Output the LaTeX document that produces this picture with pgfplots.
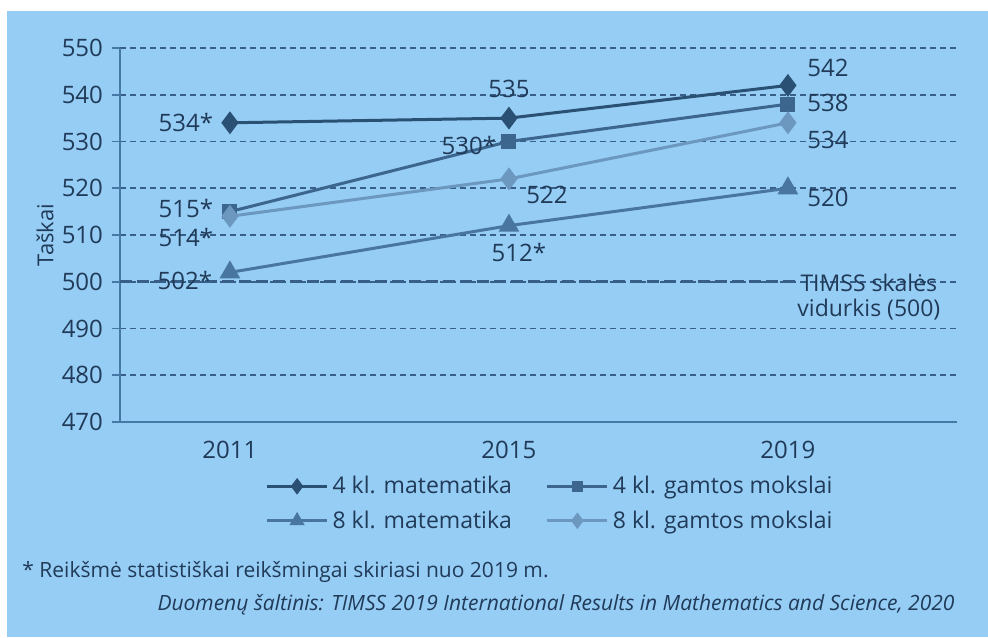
\documentclass[border=0pt]{standalone}
\usepackage{pgfplots}
\pgfplotsset{compat=1.18}
\usepackage{fontspec}
\setmainfont{Open Sans}
\definecolor{bgc}{RGB}{150,205,245}
\definecolor{textc}{RGB}{32,58,88}
\definecolor{gridc}{RGB}{55,95,135}
\definecolor{axisc}{RGB}{70,120,165}
\definecolor{c1}{RGB}{42,80,115}
\definecolor{c2}{RGB}{60,102,142}
\definecolor{c3}{RGB}{72,118,160}
\definecolor{c4}{RGB}{108,152,192}
\begin{document}
\begin{tikzpicture}
\path[use as bounding box] (-60pt,-107.5pt) rectangle (434pt,211pt);
\fill[white] (-60pt,-107.5pt) rectangle (434pt,211pt);
\fill[bgc] (-56.5pt,-107.5pt) rectangle (434pt,205.5pt);
\begin{axis}[
  at={(0,0)}, anchor=south west,
  scale only axis, width=418.5pt, height=187pt,
  xmin=-0.394, xmax=2.606, ymin=470, ymax=550,
  xtick={0,1,2}, xticklabels={2011,2015,2019},
  ytick={470,480,...,550},
  axis x line*=bottom, axis y line*=left,
  axis line style={color=axisc, line width=1.2pt, -},
  x tick style={draw=none},
  y tick style={color=axisc, line width=0.8pt},
  tick align=outside, major tick length=4pt,
  ymajorgrids,
  grid style={gridc, line width=0.8pt, dash pattern=on 3pt off 2pt},
  /pgf/number format/assume math mode=true,
  /pgf/number format/1000 sep={},
  tick label style={font=\fontsize{12}{14}\selectfont, color=textc},
  xticklabel style={yshift=-2pt},
  yticklabel style={xshift=-1pt},
  ylabel={Taškai},
  ylabel style={at={(axis description cs:-0.0896,0.5)}, anchor=center, rotate=0, font=\fontsize{11}{13}\selectfont, color=textc},
  legend columns=2,
  legend style={at={(0.515,-0.218)}, anchor=center, draw=none, fill=none,
    font=\fontsize{11.5}{13}\selectfont, text=textc, row sep=3pt,
    /tikz/every even column/.append style={column sep=15pt}},
  legend image code/.code={
    \draw[mark repeat=2,mark phase=2,#1,every mark/.append style={scale=0.65}] plot coordinates {(0pt,0pt) (15pt,0pt) (30pt,0pt)};
  },
  clip=false,
]
\addplot[gridc, line width=1.6pt, dash pattern=on 6pt off 2.5pt, forget plot] coordinates {(-0.394,500) (2.03,500)};
\addplot[c1, line width=1.5pt, mark=diamond*, mark size=4.5pt] coordinates {(0,534) (1,535) (2,542)};
\addlegendentry{4 kl. matematika}
\addplot[c2, line width=1.5pt, mark=square*, mark size=3pt] coordinates {(0,515) (1,530) (2,538)};
\addlegendentry{4 kl. gamtos mokslai}
\addplot[c3, line width=1.5pt, mark=triangle*, mark size=4.5pt] coordinates {(0,502) (1,512) (2,520)};
\addlegendentry{8 kl. matematika}
\addplot[c4, line width=1.5pt, mark=diamond*, mark size=4.5pt] coordinates {(0,514) (1,522) (2,534)};
\addlegendentry{8 kl. gamtos mokslai}
\tikzset{lbl/.style={font=\fontsize{12}{14}\selectfont, text=textc, inner sep=0pt}}
\node[lbl, xshift=-22pt] at (axis cs:0,534) {534*};
\node[lbl, xshift=-22pt, yshift=1.8pt] at (axis cs:0,515) {515*};
\node[lbl, xshift=-22pt, yshift=-10.5pt] at (axis cs:0,514) {514*};
\node[lbl, xshift=-22.5pt, yshift=-4pt] at (axis cs:0,502) {502*};
\node[lbl, yshift=14.5pt] at (axis cs:1,535) {535};
\node[lbl, xshift=-20pt, yshift=-2pt] at (axis cs:1,530) {530*};
\node[lbl, xshift=19pt, yshift=-8pt] at (axis cs:1,522) {522};
\node[lbl, xshift=5pt, yshift=-13.5pt] at (axis cs:1,512) {512*};
\node[lbl, xshift=20pt, yshift=8.7pt] at (axis cs:2,542) {542};
\node[lbl, xshift=20pt, yshift=0.5pt] at (axis cs:2,538) {538};
\node[lbl, xshift=20pt, yshift=-8.8pt] at (axis cs:2,534) {534};
\node[lbl, xshift=20pt, yshift=-5pt] at (axis cs:2,520) {520};
\node[font=\fontsize{11.5}{12.5}\selectfont, text=textc, align=center, inner sep=0pt] at (axis cs:2.29,496.7) {TIMSS skalės\\vidurkis (500)};
\end{axis}
\node[anchor=west, inner sep=0pt, font=\fontsize{10.5}{12}\selectfont, text=textc] at (-49pt,-75pt) {* Reikšmė statistiškai reikšmingai skiriasi nuo 2019 m.};
\node[anchor=east, inner sep=0pt, font=\fontsize{10.5}{12}\selectfont\itshape, text=textc] at (417.5pt,-91.5pt) {Duomenų šaltinis: TIMSS 2019 International Results in Mathematics and Science, 2020};
\end{tikzpicture}
\end{document}
